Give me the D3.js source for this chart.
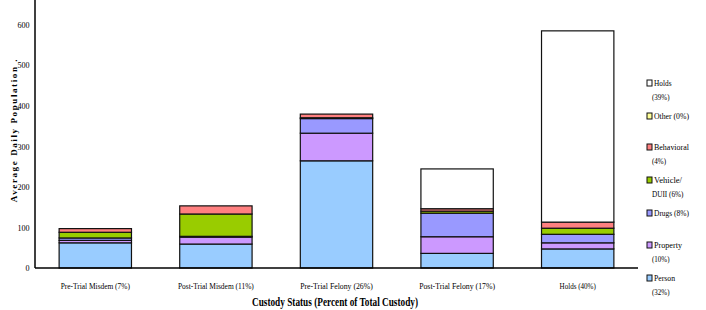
<!DOCTYPE html>
<html>
<head>
<meta charset="utf-8">
<script src="https://cdn.jsdelivr.net/npm/d3@7"></script>
<style>
  body { margin: 0; background: #fff; }
  text { font-family: "Liberation Serif", "Times New Roman", serif; fill: #000; }
</style>
</head>
<body>
<svg id="chart"></svg>
<script>
// categories and stacked series (average daily population)
const categories = ['Pre-Trial Misdem (7%)', 'Post-Trial Misdem (11%)', 'Pre-Trial Felony (26%)', 'Post-Trial Felony (17%)', 'Holds (40%)'];
const seriesKeys = ['Person', 'Property', 'Drugs', 'Vehicle', 'Behavioral', 'Other', 'Holds'];
const person     = [62, 59, 264, 36, 47];
const property   = [6, 17, 68, 41, 15];
const drugs      = [6, 2, 36, 58, 21];
const vehicle    = [14, 55, 2, 5, 15];
const behavioral = [9, 20, 9, 6, 15];
const other      = [0, 0, 0, 0, 0];
const holds      = [0, 0, 0, 98, 471];
const yTicks = [0, 100, 200, 300, 400, 500, 600];
const legendLabels = [['Holds', '(39%)'], ['Other (0%)'], ['Behavioral', '(4%)'], ['Vehicle/', 'DUII (6%)'], ['Drugs (8%)'], ['Property', '(10%)'], ['Person', '(32%)']];
const colors = ['#99ccff', '#cc99ff', '#9999ff', '#99cc00', '#ff8080', '#ffff99', '#ffffff'];

const width = 706, height = 310;
const svg = d3.select('#chart').attr('width', width).attr('height', height);

const rows = categories.map((c, i) => ({
    cat: c, Person: person[i], Property: property[i], Drugs: drugs[i],
    Vehicle: vehicle[i], Behavioral: behavioral[i], Other: other[i], Holds: holds[i]
}));
const stacked = d3.stack().keys(seriesKeys)(rows);

const x = d3.scaleBand().domain(categories).range([35, 638]).paddingInner(0.4).paddingOuter(0.2);
const y = d3.scaleLinear().domain([0, 660]).range([268, 0]);
const color = d3.scaleOrdinal().domain(seriesKeys).range(colors);

// bars
const layers = svg.append('g').selectAll('g').data(stacked).join('g')
    .attr('fill', d => color(d.key));

layers.selectAll('rect').data(d => d.filter(p => p[1] - p[0] > 0)).join('rect')
    .attr('x', d => x(d.data.cat))
    .attr('y', d => y(d[1]))
    .attr('width', x.bandwidth())
    .attr('height', d => y(d[0]) - y(d[1]))
    .attr('stroke', '#111')
    .attr('stroke-width', 1.2);

// axes
const yAxis = svg.append('g').attr('transform', 'translate(35,0)')
    .call(d3.axisLeft(y).tickValues(yTicks).tickSize(0).tickPadding(6));
yAxis.select('.domain').attr('d', 'M0,268V0').attr('stroke', '#000').attr('stroke-width', 1.5);
yAxis.selectAll('text').style('font-family', '"Liberation Serif", serif').style('font-size', '9px')
    .attr('transform', 'scale(0.9,1)');

svg.append('line').attr('x1', 35).attr('x2', 638).attr('y1', y(0)).attr('y2', y(0))
    .attr('stroke', '#000').attr('stroke-width', 1.5);

// category labels
svg.append('g').selectAll('text').data(categories).join('text')
    .attr('x', d => x(d) + x.bandwidth() / 2)
    .attr('y', 289)
    .attr('text-anchor', 'middle')
    .attr('font-size', 9)
    .attr('textLength', d => d.length * 3.3)
    .attr('lengthAdjust', 'spacingAndGlyphs')
    .text(d => d);

// axis titles
svg.append('text')
    .attr('x', 335).attr('y', 306)
    .attr('text-anchor', 'middle')
    .attr('font-size', 12).attr('font-weight', 'bold')
    .attr('textLength', 166).attr('lengthAdjust', 'spacingAndGlyphs')
    .text('Custody Status (Percent of Total Custody)');

svg.append('text')
    .attr('transform', 'translate(17,130) rotate(-90)')
    .attr('text-anchor', 'middle')
    .attr('font-size', 9).attr('font-weight', 'bold')
    .attr('letter-spacing', 1.6)
    .text('Average Daily Population .');

// legend
const legendY = [86, 119, 150, 183, 216, 248, 281];
const legendKeys = seriesKeys.slice().reverse();
const legend = svg.append('g').selectAll('g').data(legendKeys).join('g')
    .attr('transform', (d, i) => `translate(647,${legendY[i]})`);

legend.append('rect')
    .attr('x', 0).attr('y', -6).attr('width', 5).attr('height', 6)
    .attr('fill', d => color(d)).attr('stroke', '#111').attr('stroke-width', 1);

legend.append('text')
    .attr('font-size', 9)
    .selectAll('tspan').data((d, i) => legendLabels[i]).join('tspan')
    .attr('x', (d, j) => j === 0 ? 7 : 5)
    .attr('dy', (d, j) => j === 0 ? 0 : 14)
    .attr('textLength', d => d.length * 3.5)
    .attr('lengthAdjust', 'spacingAndGlyphs')
    .text(d => d);
</script>
</body>
</html>
